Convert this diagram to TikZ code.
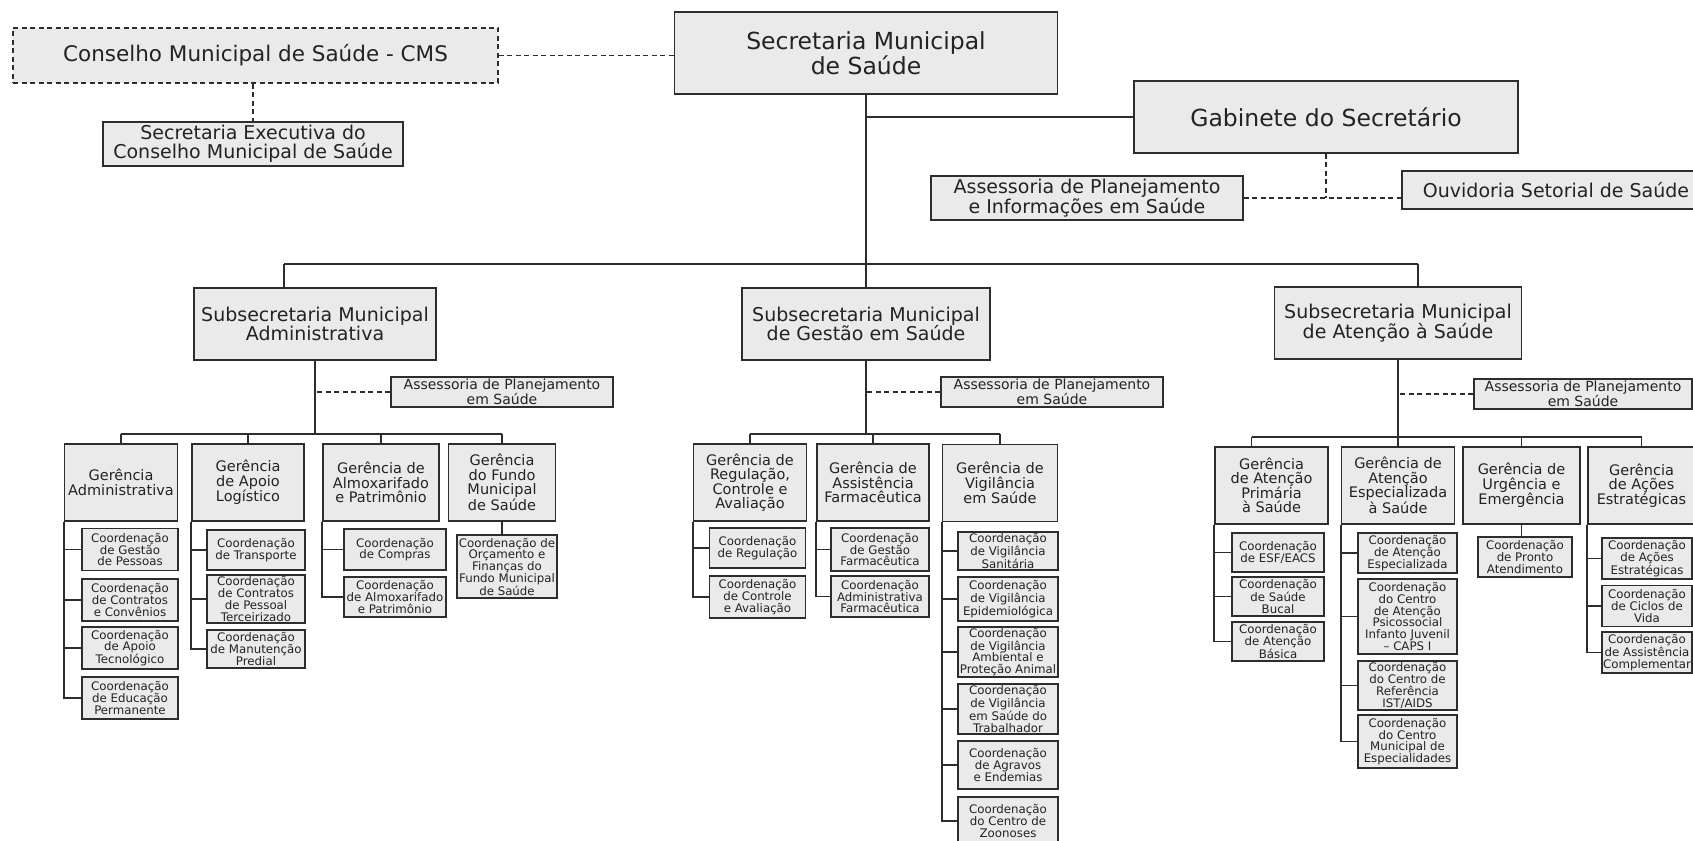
\documentclass[tikz,border=0pt]{standalone}
\usepackage{fontspec}
\setmainfont{DejaVu Sans}
\definecolor{boxfill}{RGB}{234,234,234}
\definecolor{boxline}{RGB}{45,45,45}
\definecolor{ink}{RGB}{35,35,35}

\tikzset{
	box/.style={draw=boxline, fill=boxfill, line width=1.6pt, inner sep=0pt, align=center, text=ink},
	topbox/.style={box, font=\fontsize{23.5}{22}\selectfont},
	midbox/.style={box, font=\fontsize{19}{19}\selectfont},
	subbox/.style={box, minimum height=72pt, font=\fontsize{19}{19.3}\selectfont},
	asbox/.style={box, minimum width=222pt, minimum height=30pt, font=\fontsize{14}{13.5}\selectfont},
	gerbox/.style={box, minimum height=77pt, font=\fontsize{14.5}{14.5}\selectfont},
	coordbox/.style={box, line width=1.8pt, font=\fontsize{11.8}{11.7}\selectfont},
	link/.style={draw=boxline, line width=1.8pt},
	dashlink/.style={draw=boxline, line width=1.5pt, dash pattern=on 5pt off 3.5pt}
}

\begin{document}
\begin{tikzpicture}[x=1pt, y=-1pt]
	\useasboundingbox (0,0) rectangle (1693,840);
	\clip (0,0) rectangle (1693,840);
	
	% Top level
	\node[box, dash pattern=on 5pt off 3.5pt, minimum width=485pt, minimum height=55pt, font=\fontsize{21.5}{21.5}\selectfont] (cms) at (255.5,55.5) {Conselho Municipal de Saúde - CMS};
	\node[midbox, minimum width=300pt, minimum height=44pt] (secexec) at (253,144) {Secretaria Executiva do\\Conselho Municipal de Saúde};
	\node[topbox, minimum width=383pt, minimum height=82pt] (sms) at (866,53) {Secretaria Municipal\\de Saúde};
	\node[topbox, minimum width=384pt, minimum height=72pt] (gab) at (1326,117) {Gabinete do Secretário};
	\node[midbox, minimum width=312pt, minimum height=44pt] (apis) at (1087,198) {Assessoria de Planejamento\\e Informações em Saúde};
	\node[midbox, minimum width=308pt, minimum height=38pt] (ouv) at (1556,190) {Ouvidoria Setorial de Saúde};
	
	\draw[dashlink] (cms.east) -- (cms.east -| sms.west);
	\draw[dashlink] (cms.south -| secexec.north) -- (secexec.north);
	\draw[link] (sms.south |- gab.west) -- (gab.west);
	\coordinate (gj) at (gab.south |- apis.east);
	\draw[dashlink] (gab.south) -- (gj);
	\draw[dashlink] (apis.east) -- (apis.east -| ouv.west);
	
	% Subsecretarias
	\coordinate (bus) at (866,264);
	\coordinate (busL) at (284,264);
	\coordinate (busR) at (1418,264);
	\draw[link] (sms.south) -- (bus);
	\draw[link] (busL) -- (busR);
	
	\node[subbox, minimum width=242pt] (ssa) at (315,324) {Subsecretaria Municipal\\Administrativa};
	\node[subbox, minimum width=248pt] (ssg) at (866,324) {Subsecretaria Municipal\\de Gestão em Saúde};
	\node[subbox, minimum width=247pt] (sst) at (1398,323) {Subsecretaria Municipal\\de Atenção à Saúde};
	\draw[link] (busL) -- (busL |- ssa.north);
	\draw[link] (bus) -- (bus |- ssg.north);
	\draw[link] (busR) -- (busR |- sst.north);
	
	\node[asbox] (asa) at (502,392) {Assessoria de Planejamento\\em Saúde};
	\node[asbox] (asg) at (1052,392) {Assessoria de Planejamento\\em Saúde};
	\node[asbox, minimum width=218pt] (ast) at (1583,394) {Assessoria de Planejamento\\em Saúde};
	\foreach \s/\a in {ssa/asa, ssg/asg, sst/ast}
		\draw[dashlink] (\a.west) -- (\a.west -| \s.south);
	
	\coordinate (ba) at (315,434);
	\coordinate (bg) at (866,434);
	\coordinate (bt) at (1398,437);
	\foreach \s/\b in {ssa/ba, ssg/bg, sst/bt}
		\draw[link] (\s.south) -- (\b);
	
	% Administrativa
	\node[gerbox, minimum width=113pt] (gadm) at (121,482.5) {Gerência\\Administrativa};
	\node[gerbox, minimum width=112pt] (gapo) at (248,482.5) {Gerência\\de Apoio\\Logístico};
	\node[gerbox, minimum width=116pt] (galm) at (381,482.5) {Gerência de\\Almoxarifado\\e Patrimônio};
	\node[gerbox, minimum width=107pt] (gfun) at (502,482.5) {Gerência\\do Fundo\\Municipal\\de Saúde};
	\draw[link] (gadm.north |- ba) -- (gfun.north |- ba);
	\foreach \g in {gadm,gapo,galm,gfun}
		\draw[link] (\g.north |- ba) -- (\g.north);
	
	\foreach \n/\y/\t in {a1/549.5/{Coordenação\\de Gestão\\de Pessoas}, a2/600/{Coordenação\\de Contratos\\e Convênios}, a3/648/{Coordenação\\de Apoio\\Tecnológico}, a4/698/{Coordenação\\de Educação\\Permanente}}
		\node[coordbox, minimum width=96pt, minimum height=42pt] (\n) at (130,\y) {\t};
	\foreach \i in {1,...,4}
		\draw[link] (gadm.south west) |- (a\i.west);
	
	\foreach \n/\y/\h/\t in {p1/550/40/{Coordenação\\de Transporte}, p2/599/48/{Coordenação\\de Contratos\\de Pessoal\\Terceirizado}, p3/649/38/{Coordenação\\de Manutenção\\Predial}}
		\node[coordbox, minimum width=98pt, minimum height=\h pt] (\n) at (256,\y) {\t};
	\foreach \i in {1,...,3}
		\draw[link] (gapo.south west) |- (p\i.west);
	
	\foreach \n/\y/\h/\t in {m1/549.5/41/{Coordenação\\de Compras}, m2/597/40/{Coordenação\\de Almoxarifado\\e Patrimônio}}
		\node[coordbox, minimum width=102pt, minimum height=\h pt] (\n) at (395,\y) {\t};
	\foreach \i in {1,2}
		\draw[link] (galm.south west) |- (m\i.west);
	
	\node[coordbox, minimum width=100pt, minimum height=63pt] (fu1) at (507,566.5) {Coordenação de\\Orçamento e\\Finanças do\\Fundo Municipal\\de Saúde};
	\draw[link] (gfun.south) -- (gfun.south |- fu1.north);
	
	% Gestao em Saude
	\node[gerbox, minimum width=113pt] (greg) at (750,482.5) {Gerência de\\Regulação,\\Controle e\\Avaliação};
	\node[gerbox, minimum width=112pt] (gass) at (873,482.5) {Gerência de\\Assistência\\Farmacêutica};
	\node[gerbox, minimum width=115pt] (gvig) at (1000,483) {Gerência de\\Vigilância\\em Saúde};
	\draw[link] (greg.north |- bg) -- (gvig.north |- bg);
	\foreach \g in {greg,gass,gvig}
		\draw[link] (\g.north |- bg) -- (\g.north);
	
	\foreach \n/\y/\h/\t in {r1/548/40/{Coordenação\\de Regulação}, r2/597/42/{Coordenação\\de Controle\\e Avaliação}}
		\node[coordbox, minimum width=96pt, minimum height=\h pt] (\n) at (757.5,\y) {\t};
	\foreach \i in {1,2}
		\draw[link] (greg.south west) |- (r\i.west);
	
	\foreach \n/\y/\h/\t in {f1/549.5/43/{Coordenação\\de Gestão\\Farmacêutica}, f2/596.5/41/{Coordenação\\Administrativa\\Farmacêutica}}
		\node[coordbox, minimum width=98pt, minimum height=\h pt] (\n) at (880,\y) {\t};
	\foreach \i in {1,2}
		\draw[link] (gass.south west) |- (f\i.west);
	
	\foreach \n/\y/\h/\t in {v1/551/38/{Coordenação\\de Vigilância\\Sanitária}, v2/599/44/{Coordenação\\de Vigilância\\Epidemiológica}, v3/652/50/{Coordenação\\de Vigilância\\Ambiental e\\Proteção Animal}, v4/709/50/{Coordenação\\de Vigilância\\em Saúde do\\Trabalhador}, v5/765/48/{Coordenação\\de Agravos\\e Endemias}, v6/821/48/{Coordenação\\do Centro de\\Zoonoses}}
		\node[coordbox, minimum width=100pt, minimum height=\h pt] (\n) at (1008,\y) {\t};
	\foreach \i in {1,...,6}
		\draw[link] (gvig.south west) |- (v\i.west);
	
	% Atencao a Saude
	\node[gerbox, minimum width=113pt] (gpri) at (1271.5,485.5) {Gerência\\de Atenção\\Primária\\à Saúde};
	\node[gerbox, minimum width=113pt] (gesp) at (1398,485.5) {Gerência de\\Atenção\\Especializada\\à Saúde};
	\node[gerbox, minimum width=117pt] (gurg) at (1521.5,485.5) {Gerência de\\Urgência e\\Emergência};
	\node[gerbox, minimum width=107pt] (gaco) at (1641.5,485.5) {Gerência\\de Ações\\Estratégicas};
	\coordinate (pd) at ([xshift=-20pt]gpri.north);
	\draw[link] (pd |- bt) -- (gaco.north |- bt);
	\draw[link] (pd |- bt) -- (pd);
	\foreach \g in {gesp,gurg,gaco}
		\draw[link] (\g.north |- bt) -- (\g.north);
	
	\foreach \n/\y/\t in {e1/552.5/{Coordenação\\de ESF/EACS}, e2/596.5/{Coordenação\\de Saúde\\Bucal}, e3/641.5/{Coordenação\\de Atenção\\Básica}}
		\node[coordbox, minimum width=92pt, minimum height=39pt] (\n) at (1278,\y) {\t};
	\foreach \i in {1,...,3}
		\draw[link] (gpri.south west) |- (e\i.west);
	
	\foreach \n/\y/\h/\t in {s1/553/40/{Coordenação\\de Atenção\\Especializada}, s2/616.5/75/{Coordenação\\do Centro\\de Atenção\\Psicossocial\\Infanto Juvenil\\– CAPS I}, s3/685.5/49/{Coordenação\\do Centro de\\Referência\\IST/AIDS}, s4/741.5/53/{Coordenação\\do Centro\\Municipal de\\Especialidades}}
		\node[coordbox, minimum width=99pt, minimum height=\h pt] (\n) at (1407.5,\y) {\t};
	\foreach \i in {1,...,4}
		\draw[link] (gesp.south west) |- (s\i.west);
	
	\node[coordbox, minimum width=94pt, minimum height=40pt] (u1) at (1525,557) {Coordenação\\de Pronto\\Atendimento};
	\draw[link] (gurg.south) -- (gurg.south |- u1.north);
	
	\foreach \n/\y/\t in {t1/558.5/{Coordenação\\de Ações\\Estratégicas}, t2/606/{Coordenação\\de Ciclos de\\Vida}, t3/652.5/{Coordenação\\de Assistência\\Complementar}}
		\node[coordbox, minimum width=90pt, minimum height=41pt] (\n) at (1647,\y) {\t};
	\foreach \i in {1,...,3}
		\draw[link] (gaco.south west) |- (t\i.west);
\end{tikzpicture}
\end{document}
